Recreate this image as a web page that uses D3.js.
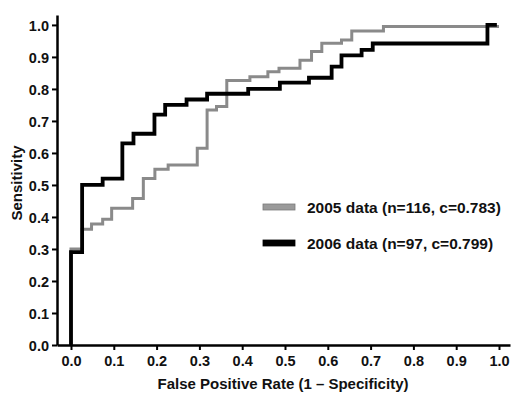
<!DOCTYPE html>
<html>
<head>
<meta charset="utf-8">
<script src="https://cdn.jsdelivr.net/npm/d3@7"></script>
<style>
  body { margin: 0; background: #fff; }
  text { font-family: "Liberation Sans", Arial, sans-serif; font-weight: bold; }
</style>
</head>
<body>
<div id="chart"></div>
<script>
// ROC curve vertices (false positive rate, sensitivity), step after each point
var fpr2005 = [0, 0, 0.026, 0.048, 0.074, 0.095, 0.144, 0.169, 0.196, 0.227, 0.295, 0.318, 0.34, 0.364, 0.418, 0.46, 0.486, 0.535, 0.562, 0.586, 0.632, 0.656, 0.73, 1.0];
var sens2005 = [0, 0.30, 0.362, 0.378, 0.393, 0.427, 0.458, 0.52, 0.549, 0.562, 0.615, 0.734, 0.745, 0.826, 0.838, 0.854, 0.865, 0.89, 0.917, 0.943, 0.953, 0.981, 0.995, 0.995];

var fpr2006 = [0, 0, 0.026, 0.074, 0.12, 0.146, 0.195, 0.22, 0.27, 0.318, 0.414, 0.488, 0.556, 0.609, 0.632, 0.679, 0.705, 0.973, 0.995];
var sens2006 = [0, 0.29, 0.50, 0.52, 0.63, 0.66, 0.72, 0.75, 0.767, 0.785, 0.80, 0.82, 0.835, 0.87, 0.905, 0.922, 0.942, 1.0, 1.0];

var tickVals = [0, 0.1, 0.2, 0.3, 0.4, 0.5, 0.6, 0.7, 0.8, 0.9, 1.0];
var seriesNames = ["2005 data (n=116, c=0.783)", "2006 data (n=97, c=0.799)"];
var seriesColors = ["#8a8a8a", "#000000"];

const width = 520, height = 398;

var svg = d3.select("#chart")
  .append("svg")
  .attr("width", width)
  .attr("height", height);

var x = d3.scaleLinear().domain([-0.0327, 1.0257]).range([57, 510]);
var y = d3.scaleLinear().domain([0, 1.031]).range([345, 15]);

// axes
var xAxis = svg.append("g")
  .attr("transform", "translate(0,345)")
  .call(d3.axisBottom(x).tickValues(tickVals).tickFormat(d3.format(".1f")).tickSize(5).tickSizeOuter(0).tickPadding(6));

var yAxis = svg.append("g")
  .attr("transform", "translate(57,0)")
  .call(d3.axisLeft(y).tickValues(tickVals).tickFormat(d3.format(".1f")).tickSize(5).tickSizeOuter(0).tickPadding(3));

[xAxis, yAxis].forEach(a => {
  a.select(".domain").attr("stroke", "#000").attr("stroke-width", 2.5);
  a.selectAll(".tick line").attr("stroke", "#000").attr("stroke-width", 2);
  a.selectAll(".tick text")
    .attr("fill", "#111")
    .style("font-size", "14.5px")
    .style("font-family", "'Liberation Sans', Arial, sans-serif")
    .style("font-weight", "bold");
});
yAxis.selectAll(".tick text").attr("dy", "0.36em");

// axis titles
svg.append("text")
  .attr("x", 283)
  .attr("y", 389)
  .attr("text-anchor", "middle")
  .style("font-size", "15px")
  .attr("fill", "#111")
  .text("False Positive Rate (1 \u2013 Specificity)");

svg.append("text")
  .attr("transform", "translate(22,183) rotate(-90)")
  .attr("text-anchor", "middle")
  .style("font-size", "15px")
  .attr("fill", "#111")
  .text("Sensitivity");

// curves
var line = d3.line()
  .x(d => x(d[0]))
  .y(d => y(d[1]))
  .curve(d3.curveStepAfter);

var curves = [
  { pts: d3.zip(fpr2005, sens2005), color: seriesColors[0], w: 3 },
  { pts: d3.zip(fpr2006, sens2006), color: seriesColors[1], w: 3.8 }
];

curves.forEach(c => {
  svg.append("path")
    .attr("d", line(c.pts))
    .attr("fill", "none")
    .attr("stroke", c.color)
    .attr("stroke-width", c.w)
    .attr("stroke-linejoin", "miter");
});

// legend
var legend = svg.selectAll(".legend")
  .data(seriesNames)
  .enter().append("g")
  .attr("class", "legend")
  .attr("transform", (d, i) => `translate(263,${207 + i * 36})`);

legend.append("rect")
  .attr("x", 0)
  .attr("y", -3)
  .attr("width", 32)
  .attr("height", 6)
  .attr("fill", (d, i) => i === 0 ? "#9a9a9a" : "#000")
  .attr("stroke", (d, i) => i === 0 ? "#7a7a7a" : "#000")
  .attr("stroke-width", 0.8);

legend.append("text")
  .attr("x", 44)
  .attr("y", 0)
  .attr("dy", "0.36em")
  .style("font-size", "15.5px")
  .attr("fill", "#111")
  .text(d => d);
</script>
</body>
</html>
